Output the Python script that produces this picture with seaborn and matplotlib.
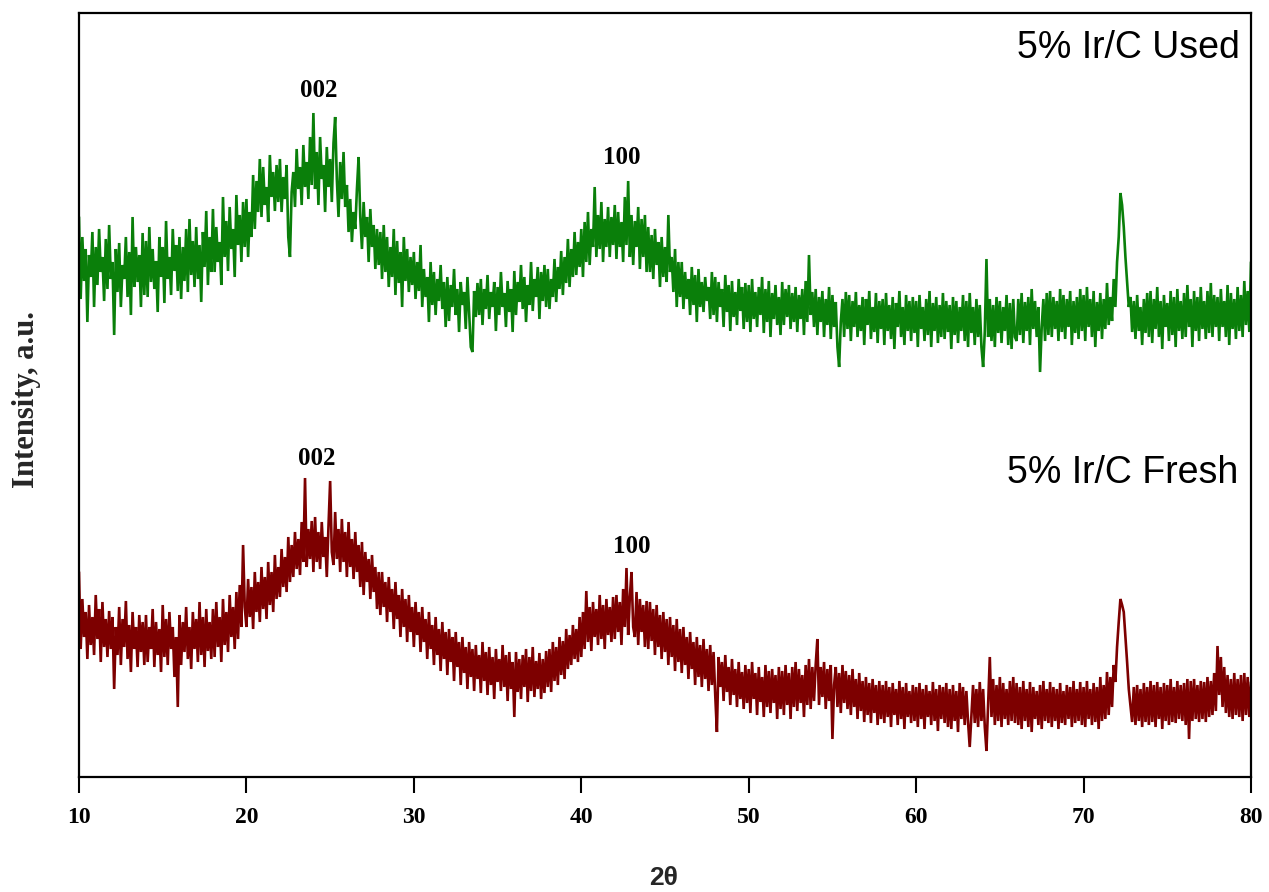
import numpy as np
import pandas as pd
import matplotlib
matplotlib.use("Agg")
import matplotlib.pyplot as plt
import seaborn as sns

# Scan grid: 2-theta from 10 to 80 degrees in 0.1 degree steps
two_theta = np.round(np.arange(10.0, 80.0001, 0.1), 1)

# 5% Ir/C used catalyst (arbitrary intensity units), one row per 2 degrees
used_intensity = [
    560, 478, 540, 496, 528, 455, 522, 500, 545, 470, 530, 492, 548, 505, 520, 476, 538, 488, 552, 498,
    515, 442, 528, 485, 534, 470, 512, 498, 540, 480, 525, 462, 560, 490, 530, 495, 522, 470, 544, 482,
    536, 480, 550, 495, 528, 488, 516, 465, 540, 500, 530, 474, 556, 498, 520, 482, 548, 506, 532, 486,
    540, 478, 530, 496, 548, 485, 558, 502, 536, 490, 550, 498, 532, 475, 545, 510, 566, 492, 540, 505,
    568, 505, 550, 515, 535, 492, 580, 520, 556, 506, 570, 528, 548, 500, 582, 532, 562, 515, 575, 530,
    578, 520, 565, 540, 602, 548, 596, 565, 618, 560, 610, 572, 590, 555, 622, 580, 605, 566, 612, 575,
    618, 565, 600, 578, 612, 540, 520, 585, 605, 570, 628, 588, 610, 572, 632, 590, 615, 578, 640, 592,
    664, 588, 625, 572, 640, 598, 612, 565, 630, 590, 618, 575, 634, 660, 598, 560, 615, 578, 625, 570,
    592, 545, 578, 535, 565, 548, 588, 620, 560, 528, 575, 540, 560, 515, 568, 530, 552, 508, 548, 512,
    545, 498, 552, 505, 540, 490, 530, 500, 548, 482, 536, 494, 525, 470, 540, 496, 528, 485, 520, 492,
    525, 478, 515, 486, 532, 470, 508, 480, 500, 455, 515, 472, 505, 462, 498, 476, 512, 468, 495, 450,
    500, 456, 492, 470, 508, 462, 488, 445, 495, 472, 485, 448, 500, 466, 430, 425, 486, 460, 494, 462,
    498, 452, 488, 468, 502, 458, 485, 470, 495, 446, 490, 462, 505, 470, 484, 450, 496, 465, 488, 445,
    506, 462, 495, 475, 512, 468, 500, 455, 492, 472, 515, 466, 498, 480, 510, 458, 505, 476, 512, 470,
    508, 468, 498, 480, 518, 475, 510, 488, 526, 482, 520, 494, 538, 490, 528, 500, 545, 502, 535, 510,
    548, 500, 555, 515, 565, 512, 548, 530, 590, 520, 562, 528, 575, 515, 558, 530, 570, 520, 560, 532,
    572, 518, 565, 530, 555, 515, 580, 532, 596, 520, 562, 512, 556, 530, 570, 508, 558, 520, 562, 505,
    550, 505, 542, 498, 548, 512, 535, 490, 540, 500, 530, 495, 562, 505, 520, 485, 528, 470, 515, 480,
    515, 468, 505, 478, 498, 462, 510, 472, 502, 455, 508, 470, 495, 465, 500, 476, 490, 458, 505, 462,
    500, 455, 495, 470, 488, 450, 502, 465, 492, 446, 496, 460, 485, 452, 498, 466, 490, 448, 494, 455,
    492, 445, 498, 458, 485, 450, 490, 462, 500, 444, 488, 455, 496, 440, 484, 458, 492, 452, 480, 442,
    495, 452, 488, 460, 492, 448, 484, 455, 490, 445, 482, 458, 488, 442, 496, 455, 522, 462, 485, 450,
    488, 442, 480, 455, 486, 440, 478, 452, 490, 438, 482, 450, 475, 430, 410, 455, 478, 440, 485, 448,
    482, 436, 476, 450, 485, 440, 472, 446, 480, 432, 478, 452, 486, 438, 470, 445, 484, 434, 476, 448,
    478, 432, 484, 446, 472, 438, 480, 428, 474, 450, 486, 440, 470, 432, 482, 446, 476, 436, 480, 444,
    476, 430, 482, 448, 470, 436, 478, 442, 486, 430, 474, 446, 480, 434, 472, 440, 484, 438, 476, 445,
    472, 428, 480, 442, 476, 434, 470, 446, 482, 436, 476, 430, 484, 444, 470, 432, 478, 440, 472, 430,
    410, 445, 518, 440, 478, 436, 472, 430, 480, 444, 476, 434, 470, 446, 482, 432, 474, 428, 478, 440,
    436, 478, 442, 484, 434, 475, 446, 480, 432, 488, 448, 476, 440, 470, 405, 450, 478, 436, 484, 442,
    486, 440, 480, 448, 476, 436, 488, 445, 482, 438, 478, 450, 486, 432, 476, 444, 480, 438, 488, 446,
    482, 436, 490, 450, 478, 440, 486, 430, 475, 446, 484, 438, 478, 448, 494, 452, 480, 456, 498, 470,
    515, 540, 584, 572, 550, 520, 495, 470, 480, 445, 476, 438, 482, 446, 470, 432, 478, 444, 484, 440,
    486, 434, 478, 448, 490, 440, 476, 428, 482, 450, 474, 436, 486, 442, 480, 430, 488, 446, 476, 438,
    484, 440, 492, 450, 478, 430, 486, 446, 480, 436, 490, 448, 476, 438, 486, 444, 494, 440, 482, 450,
    480, 436, 488, 450, 476, 440, 492, 432, 484, 448, 478, 438, 490, 446, 482, 440, 496, 452, 486, 445,
    515,
]

# 5% Ir/C fresh catalyst (arbitrary intensity units), one row per 2 degrees
fresh_intensity = [
    205, 128, 178, 140, 165, 118, 172, 132, 160, 122, 182, 138, 168, 115, 175, 130, 158, 120, 166, 128,
    160, 88, 150, 122, 170, 112, 158, 130, 176, 118, 152, 105, 165, 128, 150, 110, 162, 125, 155, 112,
    162, 115, 150, 128, 168, 110, 155, 122, 148, 105, 172, 120, 158, 112, 165, 128, 150, 100, 140, 70,
    162, 112, 155, 125, 170, 118, 150, 108, 165, 128, 158, 115, 175, 122, 160, 110, 168, 126, 155, 118,
    168, 120, 175, 130, 160, 115, 178, 132, 165, 125, 182, 140, 170, 128, 185, 138, 192, 150, 232, 170,
    150, 198, 160, 190, 148, 205, 165, 195, 155, 210, 168, 200, 158, 215, 172, 205, 165, 222, 178, 210,
    180, 228, 190, 220, 185, 240, 195, 232, 200, 245, 208, 238, 202, 255, 215, 299, 210, 248, 218, 256,
    205, 260, 215, 245, 208, 255, 220, 240, 200, 250, 296, 225, 212, 265, 218, 248, 205, 258, 215, 245,
    200, 255, 210, 238, 198, 245, 205, 232, 190, 235, 182, 225, 195, 218, 178, 222, 185, 210, 168, 205,
    162, 205, 170, 195, 155, 200, 165, 188, 148, 195, 158, 182, 140, 188, 150, 178, 135, 182, 145, 170,
    130, 175, 142, 165, 125, 170, 135, 158, 118, 165, 128, 152, 112, 160, 122, 148, 106, 155, 118, 145,
    102, 148, 115, 140, 96, 145, 110, 135, 92, 140, 104, 130, 88, 135, 100, 128, 86, 132, 98, 122,
    84, 135, 96, 125, 82, 130, 92, 120, 78, 128, 95, 118, 86, 132, 90, 122, 76, 125, 88, 115,
    60, 125, 85, 118, 78, 122, 90, 128, 75, 120, 86, 130, 80, 116, 88, 124, 78, 118, 84, 126,
    90, 128, 85, 135, 96, 130, 92, 140, 102, 136, 98, 148, 108, 142, 112, 152, 118, 148, 115, 160,
    120, 165, 128, 186, 135, 170, 126, 175, 140, 168, 132, 182, 138, 172, 128, 178, 142, 170, 135, 180,
    138, 182, 145, 175, 132, 188, 150, 209, 142, 180, 205, 150, 140, 185, 132, 178, 145, 172, 130, 176,
    128, 175, 136, 168, 122, 172, 130, 162, 118, 165, 125, 158, 112, 160, 120, 152, 106, 158, 115, 148,
    104, 150, 112, 140, 98, 145, 108, 135, 92, 140, 100, 132, 90, 138, 98, 128, 86, 132, 92, 125,
    82, 45, 120, 90, 115, 76, 122, 85, 110, 72, 118, 82, 108, 70, 115, 78, 105, 68, 112, 74,
    108, 64, 115, 78, 104, 62, 110, 75, 100, 60, 112, 70, 106, 64, 108, 74, 102, 58, 110, 68,
    106, 62, 112, 72, 104, 58, 110, 70, 115, 66, 108, 74, 102, 60, 112, 72, 118, 68, 110, 76,
    112, 138, 72, 110, 80, 115, 68, 108, 76, 112, 38, 92, 110, 70, 104, 64, 112, 74, 106, 68,
    102, 62, 108, 70, 98, 58, 104, 66, 96, 55, 100, 62, 94, 54, 98, 64, 92, 52, 96, 58,
    92, 54, 96, 60, 90, 50, 94, 62, 88, 52, 96, 58, 90, 48, 94, 60, 86, 54, 92, 56,
    90, 50, 94, 58, 88, 48, 92, 60, 86, 52, 95, 56, 88, 46, 92, 58, 90, 54, 94, 50,
    88, 48, 92, 56, 86, 45, 94, 58, 90, 52, 86, 55, 30, 62, 92, 54, 88, 50, 95, 56,
    88, 50, 26, 72, 120, 60, 98, 52, 92, 56, 100, 50, 94, 58, 88, 52, 96, 56, 100, 54,
    94, 52, 90, 48, 96, 56, 88, 50, 95, 45, 90, 58, 86, 52, 92, 48, 96, 56, 88, 54,
    95, 50, 90, 56, 88, 48, 94, 54, 86, 52, 92, 58, 90, 50, 96, 54, 88, 56, 95, 52,
    90, 50, 96, 58, 88, 52, 94, 55, 90, 48, 100, 56, 92, 58, 105, 62, 100, 70, 112, 95,
    130, 155, 178, 172, 165, 140, 115, 88, 72, 55, 90, 52, 92, 56, 88, 50, 94, 55, 90, 52,
    96, 55, 92, 50, 95, 58, 90, 48, 94, 56, 92, 52, 98, 55, 90, 54, 96, 58, 92, 56,
    94, 52, 98, 38, 96, 56, 98, 58, 92, 55, 96, 58, 95, 55, 100, 60, 96, 62, 104, 66,
    131, 82, 120, 70, 110, 64, 102, 60, 98, 58, 104, 62, 98, 60, 102, 56, 104, 62, 100, 60,
    95,
]

sample_names = ["5% Ir/C Used", "5% Ir/C Fresh"]
sample_colors = ["#0a7f0a", "#7d0000"]
xtick_values = [10, 20, 30, 40, 50, 60, 70, 80]

# Reflection labels: (text, 2-theta, intensity at label baseline)
used_peaks = [("002", 24.3, 680), ("100", 42.4, 613)]
fresh_peaks = [("002", 24.2, 312), ("100", 43.0, 224)]

sns.set_theme(style="ticks")
plt.rcParams["font.family"] = ["Liberation Serif", "DejaVu Serif"]

fig = plt.figure(figsize=(12.69, 8.92), dpi=100)
ax = fig.add_axes([79 / 1269, 1 - 777 / 892, (1251 - 79) / 1269, (777 - 13) / 892])

df = pd.DataFrame({
    "two_theta": np.concatenate([two_theta, two_theta]),
    "intensity": np.concatenate([used_intensity, fresh_intensity]),
    "sample": [sample_names[0]] * len(two_theta) + [sample_names[1]] * len(two_theta),
})

for name, color in zip(sample_names, sample_colors):
    sns.lineplot(data=df[df["sample"] == name], x="two_theta", y="intensity",
                 color=color, linewidth=1.9, estimator=None, ax=ax, legend=False,
                 solid_joinstyle="miter")

ax.set_xlim(10, 80)
ax.set_ylim(0, 764)
ax.set_xticks(xtick_values)
ax.set_xticklabels([str(v) for v in xtick_values])
ax.set_yticks([])
ax.set_xlabel("")
ax.set_ylabel("")

for side in ["left", "right", "top", "bottom"]:
    ax.spines[side].set_visible(True)
    ax.spines[side].set_linewidth(1.6)
    ax.spines[side].set_color("black")
    ax.spines[side].set_zorder(5)

ax.tick_params(axis="x", direction="out", length=11.5, width=1.5,
               pad=10, labelsize=17, colors="black")
for lab in ax.get_xticklabels():
    lab.set_fontweight("bold")
    lab.set_fontfamily("Liberation Serif")

for text, x, y in used_peaks + fresh_peaks:
    ax.text(x, y, text, ha="center", va="baseline", fontsize=18,
            fontweight="bold", family="Liberation Serif", color="black")

ax.text(79.36, 719, sample_names[0], ha="right", va="baseline",
        fontsize=27, family="Liberation Sans", color="black")
ax.text(79.24, 294, sample_names[1], ha="right", va="baseline",
        fontsize=27, family="Liberation Sans", color="black")

fig.text(664 / 1269, 1 - 885 / 892, "2θ", ha="center", va="baseline",
         fontsize=19, fontweight="bold", family="Liberation Sans")
fig.text(27 / 1269, 1 - 400 / 892, "Intensity, a.u.", ha="center", va="center",
         rotation=90, fontsize=22, fontweight="bold", family="Liberation Serif")

fig.savefig("out.png", dpi=100, facecolor="white")
